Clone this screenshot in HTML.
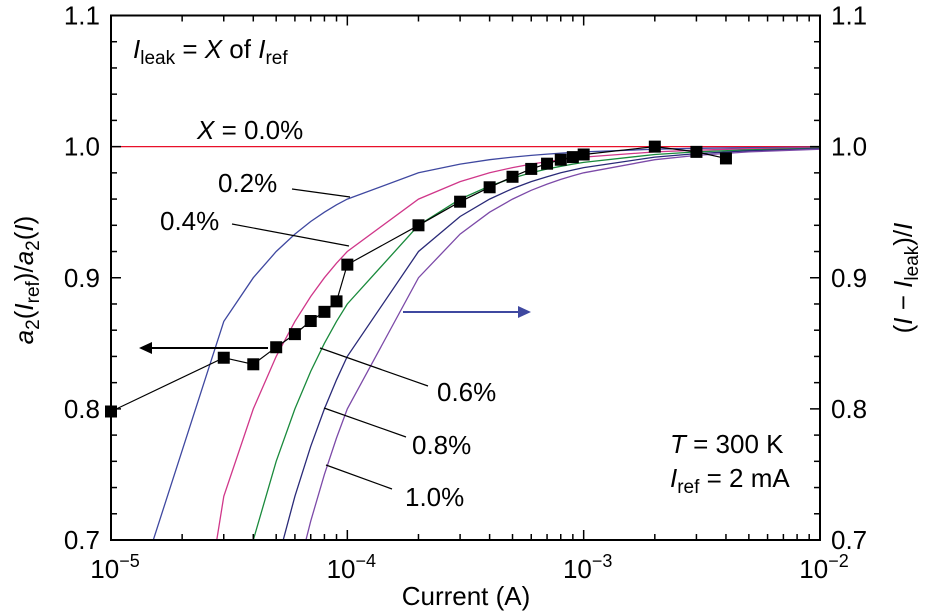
<!DOCTYPE html>
<html><head><meta charset="utf-8"><style>
html,body{margin:0;padding:0;background:#fff;overflow:hidden;}
svg{display:block;font-family:"Liberation Sans",Arial,sans-serif;}
</style></head><body>
<svg id="chart" width="931" height="616" viewBox="0 0 931 616">
<g id="curves"></g>
<g id="marks"></g>
<g id="axes"></g>
<g id="ann">
  <text x="133" y="58" font-size="26"><tspan font-style="italic">I</tspan><tspan font-size="19" dy="6">leak</tspan><tspan dy="-6"> = </tspan><tspan font-style="italic">X</tspan><tspan> of </tspan><tspan font-style="italic">I</tspan><tspan font-size="19" dy="6">ref</tspan></text>
  <text x="197" y="139" font-size="26"><tspan font-style="italic">X</tspan> = 0.0%</text>
  <text x="218" y="192" font-size="26">0.2%</text>
  <line x1="292" y1="189" x2="350" y2="197" stroke="#000" stroke-width="1.2"/>
  <text x="160" y="230" font-size="26">0.4%</text>
  <line x1="232" y1="224" x2="349" y2="246" stroke="#000" stroke-width="1.2"/>
  <text x="437" y="401" font-size="26">0.6%</text>
  <line x1="320" y1="348" x2="428" y2="386" stroke="#000" stroke-width="1.2"/>
  <text x="412" y="454" font-size="26">0.8%</text>
  <line x1="324" y1="408" x2="406" y2="437" stroke="#000" stroke-width="1.2"/>
  <text x="405" y="506" font-size="26">1.0%</text>
  <line x1="326" y1="465" x2="392" y2="489" stroke="#000" stroke-width="1.2"/>
  <text x="670" y="453" font-size="26"><tspan font-style="italic">T</tspan> = 300 K</text>
  <text x="670" y="487" font-size="26"><tspan font-style="italic">I</tspan><tspan font-size="19" dy="6">ref</tspan><tspan dy="-6"> = 2 mA</tspan></text>
  <line x1="268" y1="348" x2="152" y2="348" stroke="#000" stroke-width="2"/>
  <polygon points="139,348 152,342 152,354" fill="#000"/>
  <line x1="403" y1="312" x2="518" y2="312" stroke="#3f48a0" stroke-width="2"/>
  <polygon points="531,312 518,306 518,318" fill="#3f48a0"/>
  <text x="466" y="605" font-size="26" text-anchor="middle">Current (A)</text>
  <text transform="translate(33,280) rotate(-90)" font-size="26" text-anchor="middle"><tspan font-style="italic">a</tspan><tspan font-size="19" dy="6">2</tspan><tspan dy="-6">(</tspan><tspan font-style="italic">I</tspan><tspan font-size="19" dy="6">ref</tspan><tspan dy="-6">)/</tspan><tspan font-style="italic">a</tspan><tspan font-size="19" dy="6">2</tspan><tspan dy="-6">(</tspan><tspan font-style="italic">I</tspan><tspan>)</tspan></text>
  <text transform="translate(912,278) rotate(-90)" font-size="26" text-anchor="middle">(<tspan font-style="italic">I</tspan> − <tspan font-style="italic">I</tspan><tspan font-size="19" dy="6">leak</tspan><tspan dy="-6">)/</tspan><tspan font-style="italic">I</tspan></text>
</g>
</svg>
<script>
const currents = [1e-5,3e-5,4e-5,5e-5,6e-5,7e-5,8e-5,9e-5,1e-4,2e-4,3e-4,4e-4,5e-4,6e-4,7e-4,8e-4,9e-4,1e-3,2e-3,3e-3,5e-3,1e-2];
const seriesNames = ["0.0","0.2","0.4","0.6","0.8","1.0"];
const seriesColors = ["#e8102a","#3f48a0","#d0378a","#1a8a3c","#2a2a78","#7c4aa8"];
const s00 = [1,1,1,1,1,1,1,1,1,1,1,1,1,1,1,1,1,1,1,1,1,1];
const s02 = [0.6,0.8667,0.9,0.92,0.9333,0.9429,0.95,0.9556,0.96,0.98,0.9867,0.99,0.992,0.9933,0.9943,0.995,0.9956,0.996,0.998,0.9987,0.9992,0.9996];
const s04 = [0.2,0.7333,0.8,0.84,0.8667,0.8857,0.9,0.9111,0.92,0.96,0.9733,0.98,0.984,0.9867,0.9886,0.99,0.9911,0.992,0.996,0.9973,0.9984,0.9992];
const s06 = [-0.2,0.6,0.7,0.76,0.8,0.8286,0.85,0.8667,0.88,0.94,0.96,0.97,0.976,0.98,0.9829,0.985,0.9867,0.988,0.994,0.996,0.9976,0.9988];
const s08 = [-0.6,0.4667,0.6,0.68,0.7333,0.7714,0.8,0.8222,0.84,0.92,0.9467,0.96,0.968,0.9733,0.9771,0.98,0.9822,0.984,0.992,0.9947,0.9968,0.9984];
const s10 = [-1,0.3333,0.5,0.6,0.6667,0.7143,0.75,0.7778,0.8,0.9,0.9333,0.95,0.96,0.9667,0.9714,0.975,0.9778,0.98,0.99,0.9933,0.996,0.998];
const dataI = [1e-5,3e-5,4e-5,5e-5,6e-5,7e-5,8e-5,9e-5,1e-4,2e-4,3e-4,4e-4,5e-4,6e-4,7e-4,8e-4,9e-4,1e-3,2e-3,3e-3,4e-3];
const dataR = [0.798,0.839,0.834,0.847,0.857,0.867,0.874,0.882,0.910,0.940,0.958,0.969,0.977,0.983,0.987,0.990,0.992,0.994,1.0,0.996,0.991];
const yTicks = [0.7,0.8,0.9,1.0,1.1];
const yTickLabels = ["0.7","0.8","0.9","1.0","1.1"];
const xDecades = [-5,-4,-3,-2];

const L=111,R=820,T=15.5,B=540;
const X = v => L + (Math.log10(v)+5)/3*(R-L);
const Y = v => B - (v-0.7)/0.4*(B-T);
const NS="http://www.w3.org/2000/svg";
function mk(tag, attrs, parent){const e=document.createElementNS(NS,tag);for(const k in attrs)e.setAttribute(k,attrs[k]);parent.appendChild(e);return e;}

const curves=document.getElementById('curves');
const defs=mk('defs',{},document.getElementById('chart'));
const cp=mk('clipPath',{id:'clip'},defs);
mk('rect',{x:L,y:T,width:R-L,height:B-T},cp);
curves.setAttribute('clip-path','url(#clip)');
[s00,s02,s04,s06,s08,s10].forEach((s,i)=>{
  const d=s.map((v,j)=>(j?'L':'M')+X(currents[j]).toFixed(1)+','+Y(v).toFixed(1)).join('');
  const p=mk('path',{d:d,fill:'none',stroke:seriesColors[i],'stroke-width':1.3},curves);
  
  
});
const marks=document.getElementById('marks');
const ld=dataI.map((v,j)=>(j?'L':'M')+X(v).toFixed(1)+','+Y(dataR[j]).toFixed(1)).join('');
const dl=mk('path',{d:ld,fill:'none',stroke:'#000','stroke-width':1.2},marks);


dataI.forEach((v,j)=>{
  const r=mk('rect',{x:X(v)-6,y:Y(dataR[j])-6,width:12,height:12,fill:'#000'},marks);
  
  
});

const ax=document.getElementById('axes');
const fr=mk('rect',{x:L,y:T,width:R-L,height:B-T,fill:'none',stroke:'#000','stroke-width':2},ax);


for(let v=0.7;v<=1.1001;v+=0.02){
  const major=Math.abs(Math.round(v*10)-v*10)<1e-6;const len=major?10:6;const y=Y(v);
  mk('line',{x1:L,y1:y,x2:L+len,y2:y,stroke:'#000','stroke-width':1.5},ax);
  mk('line',{x1:R,y1:y,x2:R-len,y2:y,stroke:'#000','stroke-width':1.5},ax);
}
yTicks.forEach((v,i)=>{
  const a=mk('text',{x:L-11,y:Y(v)+9,'font-size':26,'text-anchor':'end'},ax);a.textContent=yTickLabels[i];
  
  
  const b=mk('text',{x:R+11,y:Y(v)+9,'font-size':26},ax);b.textContent=yTickLabels[i];
  
  
});
xDecades.forEach((d,i)=>{
  const x=X(Math.pow(10,d));
  mk('line',{x1:x,y1:B,x2:x,y2:B-10,stroke:'#000','stroke-width':1.5},ax);
  mk('line',{x1:x,y1:T,x2:x,y2:T+10,stroke:'#000','stroke-width':1.5},ax);
  if(i<xDecades.length-1){for(let m=2;m<10;m++){const xm=X(m*Math.pow(10,d));
    mk('line',{x1:xm,y1:B,x2:xm,y2:B-6,stroke:'#000','stroke-width':1.5},ax);
    mk('line',{x1:xm,y1:T,x2:xm,y2:T+6,stroke:'#000','stroke-width':1.5},ax);}}
  const t=mk('text',{x:x+4,y:578,'font-size':26,'text-anchor':'middle'},ax);
  t.innerHTML='10<tspan font-size="18" dy="-11">'+(d<0?'−':'')+Math.abs(d)+'</tspan>';
  
  
});
</script>
</body></html>
